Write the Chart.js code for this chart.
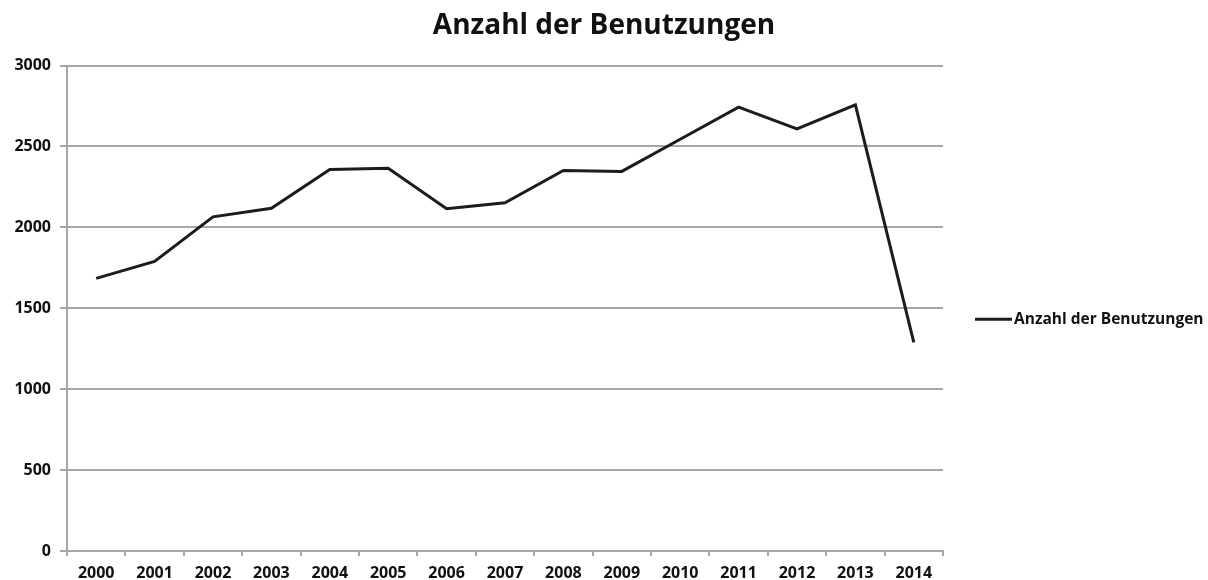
<!DOCTYPE html>
<html>
<head>
<meta charset="utf-8">
<script src="https://cdn.jsdelivr.net/npm/chart.js@4"></script>
<style>
  html, body { margin: 0; padding: 0; background: #fff; }
  #wrap { width: 1208px; height: 580px; }
</style>
</head>
<body>
<div id="wrap"><canvas id="c" width="1208" height="580"></canvas></div>
<script>
// Values
const years = ['2000', '2001', '2002', '2003', '2004', '2005', '2006', '2007',
  '2008', '2009', '2010', '2011', '2012', '2013', '2014'];
const usage = [1685, 1790, 2065, 2118, 2358, 2366, 2115, 2152, 2352, 2346,
  2545, 2743, 2609, 2757, 1290];
const seriesLabel = 'Anzahl der Benutzungen';
const titleText = 'Anzahl der Benutzungen';

const textColor = '#111';
const gridColor = '#a6a6a6';
const lineColor = '#1c1c1c';
const fontFamily = '"Open Sans", "DejaVu Sans", sans-serif';

// Legend at the right, drawn by hand: short line sample + bold label
const sideLegend = {
  id: 'sideLegend',
  afterDraw(chart) {
    const { ctx, chartArea } = chart;
    const ds = chart.data.datasets[0];
    const y = (chartArea.top + chartArea.bottom) / 2 + 11;
    const x0 = chartArea.right + 32;
    ctx.save();
    ctx.strokeStyle = lineColor;
    ctx.lineWidth = 3;
    ctx.beginPath();
    ctx.moveTo(x0, y);
    ctx.lineTo(x0 + 37, y);
    ctx.stroke();
    ctx.fillStyle = textColor;
    ctx.font = 'bold 15.5px ' + fontFamily;
    ctx.textBaseline = 'middle';
    ctx.textAlign = 'left';
    ctx.fillText(ds.label, x0 + 39, y);
    ctx.restore();
  },
};

new Chart(document.getElementById('c'), {
  type: 'line',
  data: {
    labels: years,
    datasets: [{
      label: seriesLabel,
      data: usage,
      borderColor: lineColor,
      backgroundColor: lineColor,
      borderWidth: 3,
      pointRadius: 0,
      tension: 0,
    }],
  },
  options: {
    responsive: false,
    animation: false,
    layout: { padding: 0 },
    plugins: {
      title: {
        display: true,
        text: titleText,
        color: textColor,
        font: { family: fontFamily, size: 28, weight: 'bold' },
        padding: { top: 9, bottom: 23 },
      },
      legend: { display: false },
      tooltip: { enabled: false },
    },
    scales: {
      x: {
        offset: true,
        grid: {
          offset: true,
          drawOnChartArea: false,
          drawTicks: true,
          tickLength: 5,
          color: gridColor,
          lineWidth: 2,
        },
        border: { color: gridColor, width: 2 },
        ticks: {
          color: textColor,
          font: { family: fontFamily, size: 16, weight: 'bold' },
          padding: 8,
          maxRotation: 0,
        },
        afterFit(scale) { scale.height = 29; },
      },
      y: {
        min: 0,
        max: 3000,
        grid: {
          color: gridColor,
          lineWidth: 2,
          tickLength: 7,
        },
        border: { color: gridColor, width: 2 },
        ticks: {
          stepSize: 500,
          color: textColor,
          font: { family: fontFamily, size: 16, weight: 'bold' },
          padding: 9,
          callback: (v) => String(v),
        },
        afterFit(scale) { scale.width = 67; },
      },
      // empty right-hand axis that only reserves room for the legend
      side: {
        position: 'right',
        display: true,
        grid: { display: false },
        border: { display: false },
        ticks: { display: false },
        afterFit(scale) { scale.width = 265; },
      },
    },
  },
  plugins: [sideLegend],
});
</script>
</body>
</html>
